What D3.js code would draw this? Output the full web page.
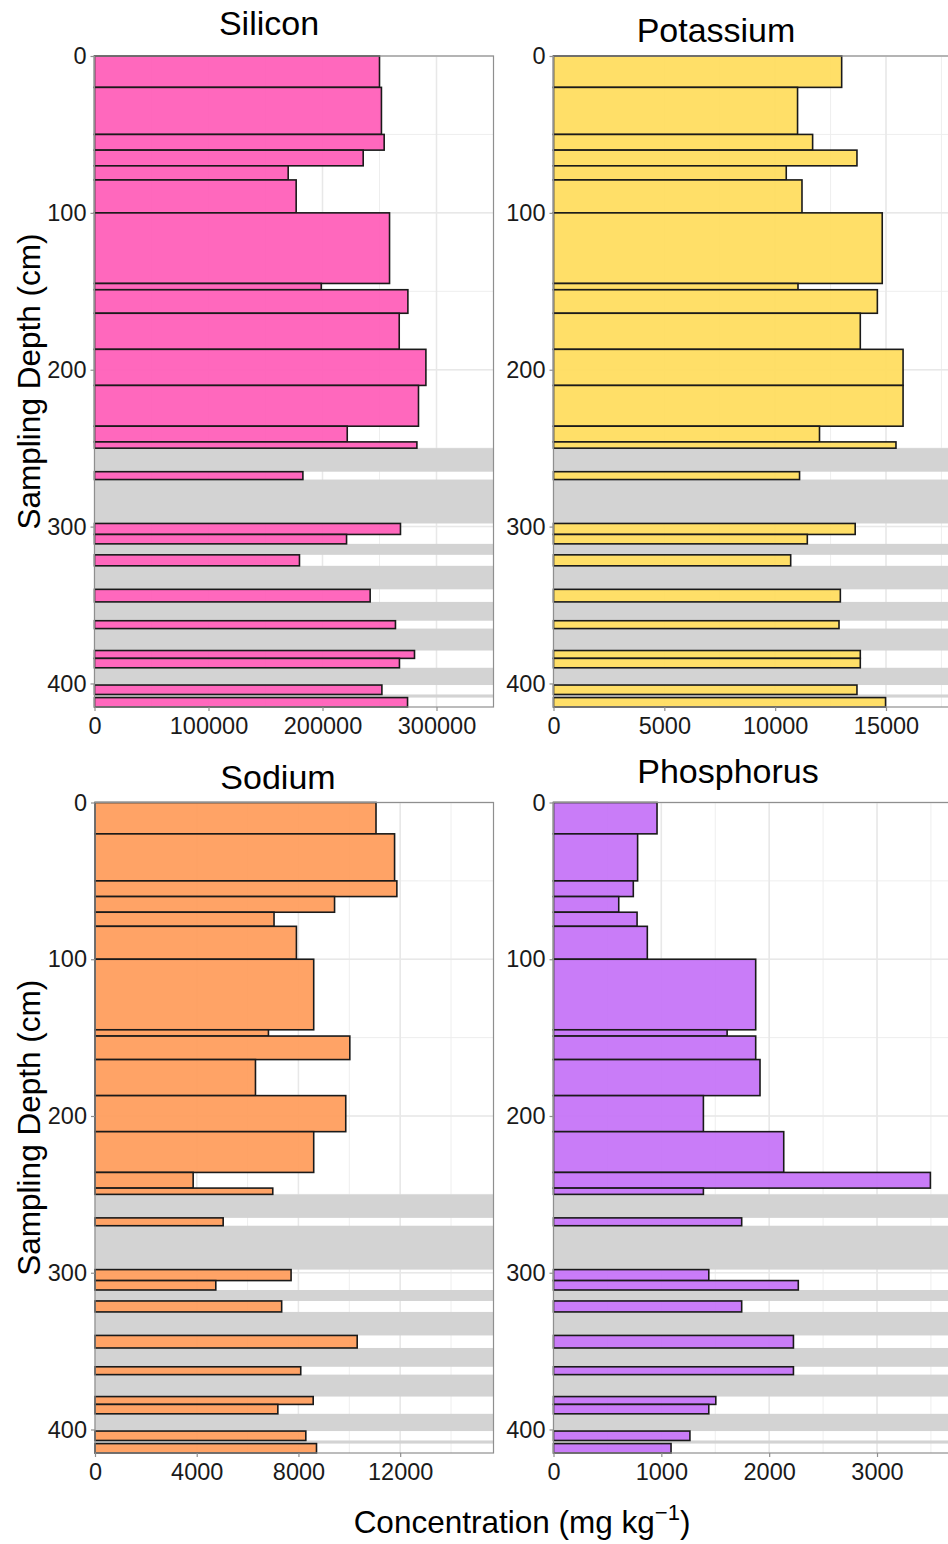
<!DOCTYPE html>
<html>
<head>
<meta charset="utf-8">
<script src="https://cdn.jsdelivr.net/npm/d3@7"></script>
<style>
  html, body { margin: 0; padding: 0; background: #fff; }
  svg { display: block; font-family: "Liberation Sans", Arial, sans-serif; }
</style>
</head>
<body>
<svg id="chart" width="948" height="1544"></svg>
<script>
// Sampling intervals (cm) shared by all four elements
const depthTop    = [0, 20, 50, 60, 70, 79, 100, 145, 149, 164, 187, 210, 236, 246, 265, 298, 305, 318, 340, 360, 379, 384, 401, 409];
const depthBottom = [20, 50, 60, 70, 79, 100, 145, 149, 164, 187, 210, 236, 246, 250, 270, 305, 311, 325, 348, 365, 384, 390, 407, 415];

// Unsampled intervals (cm)
const gapTop    = [250, 270, 311, 325, 348, 365, 390, 407];
const gapBottom = [265, 298, 318, 340, 360, 379, 401, 409];

// Concentrations (mg/kg), one per interval
const silicon    = [250000, 251700, 254100, 235700, 169900, 176900, 258800, 198900, 274900, 267300, 290700, 284200, 221700, 282800, 182800, 268400, 221100, 179800, 241800, 264000, 280700, 267500, 252100, 274600];
const potassium  = [13000, 11010, 11690, 13690, 10500, 11210, 14830, 11030, 14610, 13840, 15770, 15770, 12000, 15450, 11100, 13610, 11450, 10700, 12940, 12880, 13840, 13840, 13690, 14980];
const sodium     = [11050, 11780, 11870, 9420, 7040, 7920, 8600, 6820, 10020, 6310, 9860, 8600, 3860, 6990, 5040, 7710, 4750, 7340, 10310, 8090, 8580, 7190, 8290, 8710];
const phosphorus = [960, 780, 740, 605, 775, 870, 1875, 1610, 1875, 1915, 1390, 2135, 3495, 1390, 1745, 1440, 2270, 1745, 2225, 2225, 1505, 1440, 1265, 1090];

// Axis ticks
const depthTicks      = [0, 100, 200, 300, 400];
const siliconTicks    = [0, 100000, 200000, 300000];
const potassiumTicks  = [0, 5000, 10000, 15000];
const sodiumTicks     = [0, 4000, 8000, 12000];
const phosphorusTicks = [0, 1000, 2000, 3000];

const intervals = depthTop.map((t, i) => ({ top: t, bottom: depthBottom[i] }));
const gaps = gapTop.map((t, i) => ({ top: t, bottom: gapBottom[i] }));

const panels = [
  { title: "Silicon",    values: silicon,    ticks: siliconTicks,    xMax: 350000, minor: 50000,
    fill: "#ff5cb8", x: 94.5,  y: 56,  w: 399, h: 651, titleX: 269, titleY: 35, yTitle: true },
  { title: "Potassium",  values: potassium,  ticks: potassiumTicks,  xMax: 18000,  minor: 2500,
    fill: "#ffdd5c", x: 553.5, y: 56,  w: 399, h: 651, titleX: 716, titleY: 42, yTitle: false },
  { title: "Sodium",     values: sodium,     ticks: sodiumTicks,     xMax: 15670,  minor: 2000,
    fill: "#ff9c5a", x: 95,    y: 802.5, w: 398.5, h: 650.5, titleX: 278, titleY: 789, yTitle: true },
  { title: "Phosphorus", values: phosphorus, ticks: phosphorusTicks, xMax: 3700,   minor: 500,
    fill: "#c572f8", x: 553.5, y: 802.5, w: 399, h: 650.5, titleX: 728, titleY: 783, yTitle: false }
];

const svg = d3.select("#chart");
svg.append("rect").attr("width", 948).attr("height", 1544).attr("fill", "#fff");

panels.forEach(p => {
  const g = svg.append("g").attr("transform", `translate(${p.x},${p.y})`);
  const xs = d3.scaleLinear().domain([0, p.xMax]).range([0, p.w]);
  const ys = d3.scaleLinear().domain([0, 415]).range([0, p.h]);

  // grid: minor then major
  const xMinor = d3.range(0, p.xMax + 1e-9, p.minor);
  const yMinor = d3.range(0, 415, 50);
  g.selectAll(".vminor").data(xMinor).join("line")
    .attr("x1", d => xs(d)).attr("x2", d => xs(d)).attr("y1", 0).attr("y2", p.h)
    .attr("stroke", "#eeeeee").attr("stroke-width", 1);
  g.selectAll(".hminor").data(yMinor).join("line")
    .attr("y1", d => ys(d)).attr("y2", d => ys(d)).attr("x1", 0).attr("x2", p.w)
    .attr("stroke", "#eeeeee").attr("stroke-width", 1);
  g.selectAll(".vmajor").data(p.ticks).join("line")
    .attr("x1", d => xs(d)).attr("x2", d => xs(d)).attr("y1", 0).attr("y2", p.h)
    .attr("stroke", "#e8e8e8").attr("stroke-width", 1.5);
  g.selectAll(".hmajor").data(depthTicks).join("line")
    .attr("y1", d => ys(d)).attr("y2", d => ys(d)).attr("x1", 0).attr("x2", p.w)
    .attr("stroke", "#e8e8e8").attr("stroke-width", 1.5);

  // unsampled intervals
  g.selectAll(".gap").data(gaps).join("rect")
    .attr("x", 0).attr("width", p.w)
    .attr("y", d => ys(d.top)).attr("height", d => ys(d.bottom) - ys(d.top))
    .attr("fill", "#d3d3d3");

  // concentration bars
  g.selectAll(".bar").data(intervals).join("rect")
    .attr("x", xs(0))
    .attr("width", (d, i) => xs(p.values[i]) - xs(0))
    .attr("y", d => ys(d.top))
    .attr("height", d => ys(d.bottom) - ys(d.top))
    .attr("fill", p.fill).attr("fill-opacity", 0.93)
    .attr("stroke", "#1a1a1a").attr("stroke-width", 1.6);

  // panel border
  g.append("rect").attr("x", 0).attr("y", 0).attr("width", p.w).attr("height", p.h)
    .attr("fill", "none").attr("stroke", "#8f8f8f").attr("stroke-width", 1.2);

  // x axis
  const xAxis = d3.axisBottom(xs).tickValues(p.ticks).tickFormat(d3.format("d"))
    .tickSize(4).tickPadding(6);
  const xg = g.append("g").attr("transform", `translate(0,${p.h})`).call(xAxis);
  xg.select(".domain").remove();
  xg.selectAll(".tick line").attr("stroke", "#8f8f8f").attr("stroke-width", 1.2);
  xg.selectAll(".tick text").attr("font-size", 23.5).attr("fill", "#1a1a1a")
    .attr("font-family", "Liberation Sans, Arial, sans-serif");

  // y axis
  const yAxis = d3.axisLeft(ys).tickValues(depthTicks).tickFormat(d3.format("d"))
    .tickSize(4).tickPadding(4);
  const yg = g.append("g").call(yAxis);
  yg.select(".domain").remove();
  yg.selectAll(".tick line").attr("stroke", "#8f8f8f").attr("stroke-width", 1.2);
  yg.selectAll(".tick text").attr("font-size", 23.5).attr("fill", "#1a1a1a")
    .attr("font-family", "Liberation Sans, Arial, sans-serif");

  // panel title
  svg.append("text").attr("x", p.titleX).attr("y", p.titleY)
    .attr("text-anchor", "middle").attr("font-size", 34).attr("fill", "#000")
    .text(p.title);

  if (p.yTitle) {
    svg.append("text")
      .attr("transform", `translate(40,${p.y + p.h / 2}) rotate(-90)`)
      .attr("text-anchor", "middle").attr("font-size", 31.5).attr("fill", "#000")
      .text("Sampling Depth (cm)");
  }
});

// shared x axis title
const xt = svg.append("text").attr("x", 522).attr("y", 1533)
  .attr("text-anchor", "middle").attr("font-size", 31.5).attr("fill", "#000");
xt.append("tspan").text("Concentration (mg kg");
xt.append("tspan").attr("font-size", 22).attr("dy", -13).text("\u22121");
xt.append("tspan").attr("dy", 13).text(")");
</script>
</body>
</html>
